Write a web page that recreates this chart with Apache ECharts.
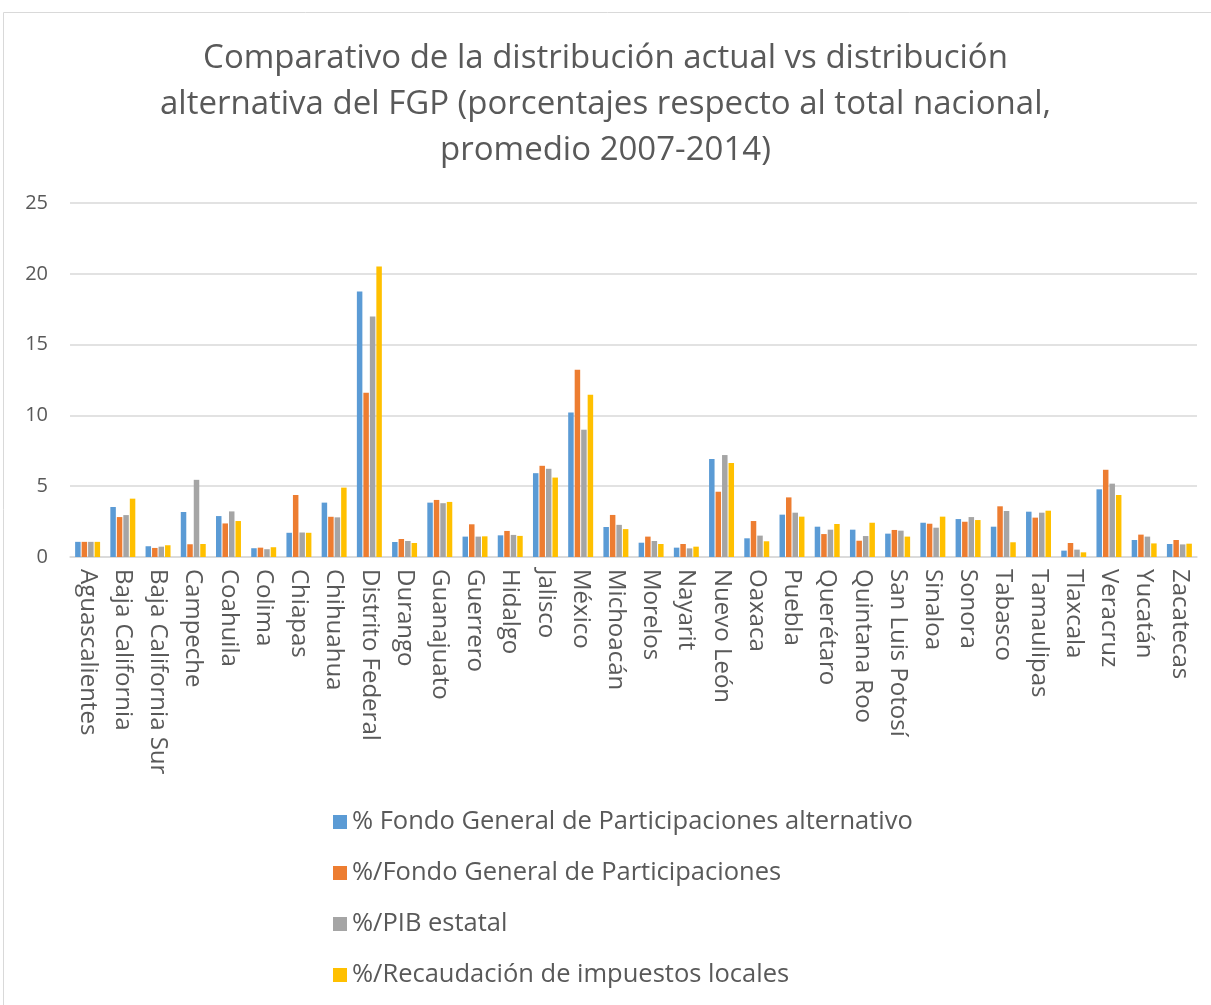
<!DOCTYPE html>
<html>
<head>
<meta charset="utf-8">
<script src="https://cdn.jsdelivr.net/npm/echarts@6/dist/echarts.min.js"></script>
<style>
  html, body { margin: 0; padding: 0; background: #fff; }
  #chart { width: 1211px; height: 1005px; }
</style>
</head>
<body>
<div id="chart"></div>
<script>
var estados = ['Aguascalientes', 'Baja California', 'Baja California Sur', 'Campeche', 'Coahuila',
  'Colima', 'Chiapas', 'Chihuahua', 'Distrito Federal', 'Durango', 'Guanajuato', 'Guerrero',
  'Hidalgo', 'Jalisco', 'México', 'Michoacán', 'Morelos', 'Nayarit', 'Nuevo León', 'Oaxaca',
  'Puebla', 'Querétaro', 'Quintana Roo', 'San Luis Potosí', 'Sinaloa', 'Sonora', 'Tabasco',
  'Tamaulipas', 'Tlaxcala', 'Veracruz', 'Yucatán', 'Zacatecas'];

var fgpAlternativo = [1.07, 3.53, 0.76, 3.18, 2.89, 0.62, 1.71, 3.84, 18.75, 1.06, 3.84, 1.44,
  1.53, 5.92, 10.21, 2.12, 1.01, 0.66, 6.92, 1.32, 2.99, 2.14, 1.93, 1.65, 2.42, 2.68, 2.14,
  3.2, 0.45, 4.78, 1.2, 0.92];
var fgpActual = [1.07, 2.82, 0.64, 0.9, 2.37, 0.66, 4.38, 2.84, 11.6, 1.27, 4.03, 2.31,
  1.84, 6.44, 13.23, 2.97, 1.44, 0.92, 4.61, 2.54, 4.21, 1.62, 1.15, 1.91, 2.35, 2.49, 3.58,
  2.78, 0.99, 6.16, 1.58, 1.2];
var pibEstatal = [1.07, 2.96, 0.73, 5.45, 3.22, 0.55, 1.73, 2.8, 16.98, 1.13, 3.8, 1.44,
  1.56, 6.23, 8.99, 2.27, 1.13, 0.61, 7.2, 1.51, 3.13, 1.93, 1.48, 1.86, 2.07, 2.82, 3.25,
  3.13, 0.52, 5.18, 1.44, 0.89];
var recaudacion = [1.07, 4.12, 0.83, 0.92, 2.54, 0.69, 1.71, 4.9, 20.52, 0.99, 3.89, 1.46,
  1.49, 5.61, 11.46, 1.97, 0.92, 0.73, 6.64, 1.11, 2.85, 2.33, 2.42, 1.44, 2.85, 2.61, 1.04,
  3.27, 0.33, 4.38, 0.96, 0.94];

var nombres = ['% Fondo General de Participaciones alternativo', '%/Fondo General de Participaciones',
  '%/PIB estatal', '%/Recaudación de impuestos locales'];
var colores = ['#5B9BD5', '#ED7D31', '#A5A5A5', '#FFC000'];
var valores = [fgpAlternativo, fgpActual, pibEstatal, recaudacion];

var chart = echarts.init(document.getElementById('chart'));
var fuente = 'Open Sans';

var option = {
  animation: false,
  color: colores,
  textStyle: { fontFamily: fuente },
  title: {
    text: 'Comparativo de la distribución actual vs distribución\nalternativa del FGP (porcentajes respecto al total nacional,\npromedio 2007-2014)',
    left: 'center',
    top: 31,
    textStyle: { fontSize: 33, fontWeight: 'normal', color: '#595959', lineHeight: 46, fontFamily: fuente }
  },
  graphic: [{
    type: 'rect',
    shape: { x: 3.5, y: 12.5, width: 1220, height: 1000 },
    style: { fill: 'none', stroke: '#d9d9d9', lineWidth: 1 },
    silent: true
  }],
  legend: {
    orient: 'vertical',
    left: 328,
    top: 804,
    itemWidth: 14,
    itemHeight: 14,
    itemGap: 25,
    icon: 'rect',
    textStyle: { fontSize: 25.5, color: '#595959', fontFamily: fuente }
  },
  grid: { left: 70, right: 14, top: 203, bottom: 448, containLabel: false },
  xAxis: {
    type: 'category',
    data: estados,
    axisLine: { lineStyle: { color: '#d9d9d9', width: 1.5 } },
    axisTick: { show: false },
    axisLabel: {
      interval: 0,
      rotate: -90,
      fontSize: 24,
      color: '#595959',
      margin: 12,
      fontFamily: fuente
    }
  },
  yAxis: {
    type: 'value',
    min: 0,
    max: 25,
    interval: 5,
    axisLine: { show: false },
    axisTick: { show: false },
    splitLine: { lineStyle: { color: '#d9d9d9', width: 1.5 } },
    axisLabel: { fontSize: 20, color: '#595959', margin: 22, fontFamily: fuente }
  },
  series: valores.map(function (v, i) {
    return {
      name: nombres[i],
      type: 'bar',
      data: v,
      barWidth: 5.5,
      barGap: '18%',
      itemStyle: { color: colores[i] }
    };
  })
};

chart.setOption(option);
</script>
</body>
</html>
